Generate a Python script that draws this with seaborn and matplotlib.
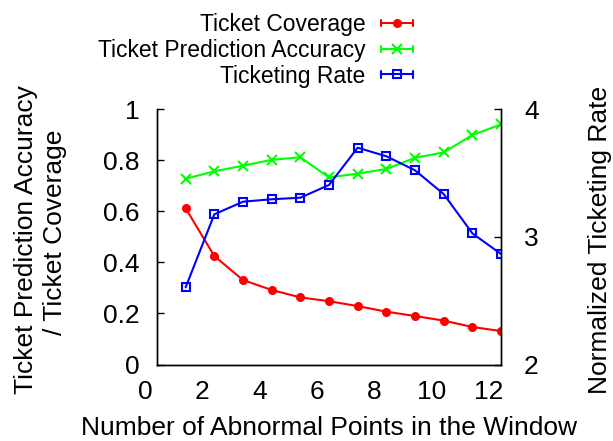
import matplotlib
matplotlib.use('Agg')
import matplotlib.pyplot as plt
import seaborn as sns
from matplotlib.lines import Line2D
from matplotlib.legend_handler import HandlerLine2D
from matplotlib.transforms import ScaledTranslation

# values
window_points = [1, 2, 3, 4, 5, 6, 7, 8, 9, 10, 11, 12]
coverage = [0.612, 0.425, 0.331, 0.292, 0.263, 0.248, 0.229, 0.207, 0.190, 0.172, 0.147, 0.131]
accuracy = [0.728, 0.757, 0.779, 0.802, 0.812, 0.733, 0.748, 0.766, 0.810, 0.831, 0.899, 0.941]
ticket_rate = [2.605, 3.177, 3.276, 3.295, 3.307, 3.407, 3.699, 3.632, 3.522, 3.336, 3.028, 2.866]

series_names = ['Ticket Coverage', 'Ticket Prediction Accuracy', 'Ticketing Rate']
x_ticks = [0, 2, 4, 6, 8, 10, 12]
left_ticks = [0, 0.2, 0.4, 0.6, 0.8, 1]
left_tick_labels = ['0', '0.2', '0.4', '0.6', '0.8', '1']
right_ticks = [2, 3, 4]

sns.set_style('ticks', {'axes.edgecolor': 'black', 'xtick.color': 'black',
                        'ytick.color': 'black', 'text.color': 'black'})
plt.rcParams['font.family'] = ['Liberation Sans', 'DejaVu Sans']


class CapLineHandler(HandlerLine2D):
    # gnuplot-style key sample: line with small end bars and marker in the middle
    def create_artists(self, legend, orig_handle, xdescent, ydescent,
                       width, height, fontsize, trans):
        artists = super().create_artists(legend, orig_handle, xdescent, ydescent,
                                         width, height, fontsize, trans)
        ymid = (height - ydescent) / 2
        for xc in (-xdescent, width - xdescent):
            artists.append(Line2D([xc, xc], [ymid - 2.3, ymid + 2.3],
                                  color=orig_handle.get_color(),
                                  lw=orig_handle.get_linewidth(), transform=trans))
        return artists


fig = plt.figure(figsize=(6.13, 4.41), dpi=100)
ax = fig.add_axes([157 / 613, 1 - 364.5 / 441, 344 / 613, 255.2 / 441])
ax2 = ax.twinx()

sns.lineplot(x=window_points, y=coverage, ax=ax, color='#ff0000', lw=1.5,
             marker='o', ms=5.5, mfc='#ff0000', mec='#ff0000', mew=1)
h1 = ax.lines[-1]
sns.lineplot(x=window_points, y=accuracy, ax=ax, color='#00ff00', lw=1.5,
             marker='x', ms=6.5, mec='#00ff00', mew=1.5)
h2 = ax.lines[-1]
sns.lineplot(x=window_points, y=ticket_rate, ax=ax2, color='#0000ff', lw=1.5,
             marker='s', ms=5.5, mfc='none', mec='#0000ff', mew=1.5)
h3 = ax2.lines[-1]

ax.set_xlim(0, 12)
ax.set_ylim(0, 1)
ax2.set_ylim(2, 4)
ax.set_xticks(x_ticks)
ax.set_yticks(left_ticks)
ax.set_yticklabels(left_tick_labels)
ax2.set_yticks(right_ticks)

for a in (ax, ax2):
    a.spines['top'].set_visible(False)
    for s in a.spines.values():
        s.set_linewidth(1)
    a.set_xlabel('')
    a.set_ylabel('')

ax.tick_params(axis='x', length=0, labelsize=19, pad=11)
ax.tick_params(axis='y', direction='in', length=5, width=1, labelsize=19, pad=12.5, right=False)
ax2.tick_params(axis='y', direction='in', length=5, width=1, labelsize=19, pad=16.5)

# x tick labels sit a little to the left of their positions in the original
shift = ScaledTranslation(-0.12, 0, fig.dpi_scale_trans)
for lbl in ax.get_xticklabels():
    lbl.set_transform(lbl.get_transform() + shift)

fig.text(33 / 613, 1 - 240 / 441, 'Ticket Prediction Accuracy', rotation=90,
         rotation_mode='anchor', ha='center', va='baseline', fontsize=19)
fig.text(61.7 / 613, 1 - 232 / 441, '/ Ticket Coverage', rotation=90,
         rotation_mode='anchor', ha='center', va='baseline', fontsize=19)
fig.text(606.7 / 613, 1 - 240 / 441, 'Normalized Ticketing Rate', rotation=90,
         rotation_mode='anchor', ha='center', va='baseline', fontsize=19)
fig.text(329 / 613, 1 - 435 / 441, 'Number of Abnormal Points in the Window',
         ha='center', va='baseline', fontsize=19)

fig.legend(handles=[h1, h2, h3], labels=series_names,
           handler_map={Line2D: CapLineHandler()},
           loc='upper right', bbox_to_anchor=(413 / 613, 1 - 13 / 441),
           frameon=False, markerfirst=False, fontsize=16.5, handlelength=1.4,
           handletextpad=0.68, labelspacing=0.12, borderpad=0, borderaxespad=0)

fig.savefig('out.png', dpi=100)
